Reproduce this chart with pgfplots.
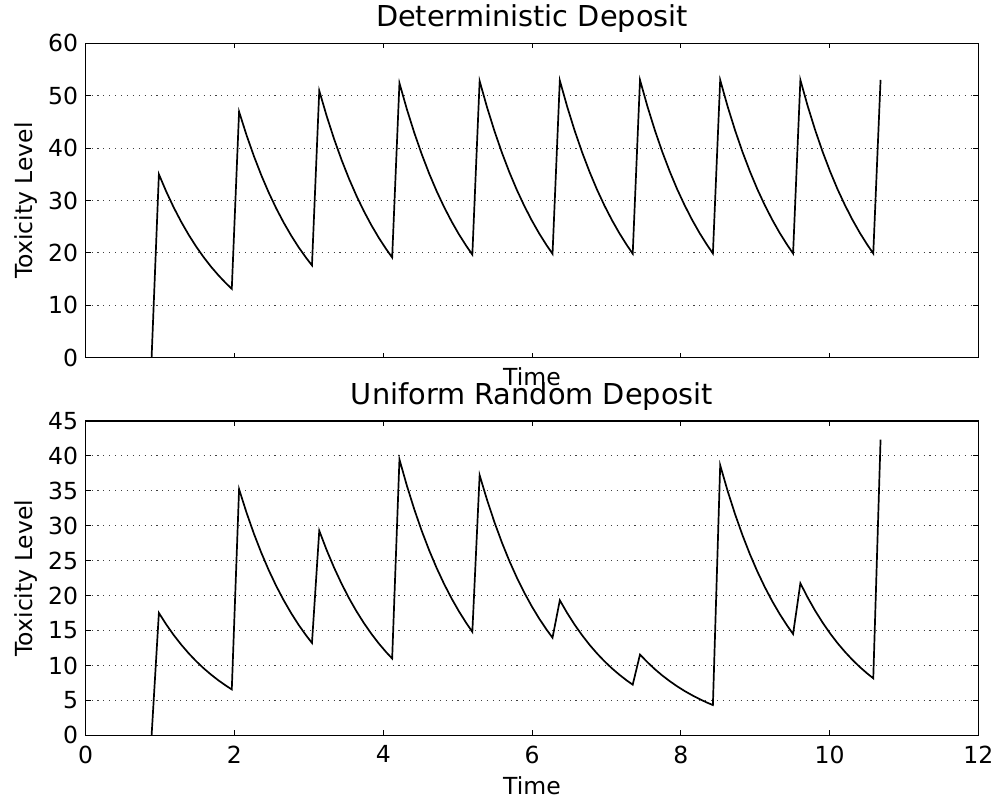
\documentclass[border=0pt]{standalone}
\usepackage{pgfplots}
\pgfplotsset{compat=1.18}
\usepackage{fontspec}
\setmainfont{DejaVu Sans}

\pgfplotsset{
 mystyle/.style={
  scale only axis, width=892.6pt, height=314.4pt,
  xmin=0, xmax=12, xtick={0,2,...,12},
  axis line style={line width=1.5pt},
  tick style={line width=1pt, black},
  major tick length=5pt,
  tick align=inside, tick pos=both,
  ymajorgrids, major grid style={line width=1.1pt, black!75, dash pattern=on 1.1pt off 4.8pt},
  tick label style={font=\fontsize{23.5}{27}\selectfont},
  /pgf/number format/assume math mode=true,
  yticklabel style={anchor=east, inner sep=0pt, xshift=-7.4pt},
  xticklabel style={anchor=north, inner sep=0pt, yshift=-10pt},
  label style={font=\fontsize{23.5}{27}\selectfont},
  title style={font=\fontsize{28.8}{33}\selectfont, at={(axis description cs:0.5,1.033)}, anchor=base},
  ylabel style={at={(axis description cs:-0.0596,0.5)}, anchor=base},
  ylabel={Toxicity Level}, xlabel={Time},
 }
}

\begin{document}
\begin{tikzpicture}
\useasboundingbox (-85.7pt,43.3pt) rectangle (911.3pt,-755.7pt);
\begin{axis}[mystyle, at={(0,0)}, anchor=north west,
  ymin=0, ymax=60, ytick={0,10,...,60}, xticklabels={{},{},{},{},{},{},{}},
  title={Deterministic Deposit},
  xlabel style={at={(axis description cs:0.5,-0.0897)}, anchor=base}]
\addplot[black, line width=1.7pt, mark=none] coordinates {
(0.886,0)
(0.984,35)(1.084,31.67)(1.184,28.65)(1.284,25.93)(1.384,23.46)(1.484,21.23)(1.584,19.21)(1.684,17.38)(1.784,15.73)(1.884,14.23)(1.964,13.14)
(2.062,46.95)(2.162,42.48)(2.262,38.44)(2.362,34.78)(2.462,31.47)(2.562,28.48)(2.662,25.77)(2.762,23.32)(2.862,21.09)(2.962,19.09)(3.042,17.62)
(3.140,50.95)(3.240,46.10)(3.340,41.71)(3.440,37.74)(3.540,34.15)(3.640,30.90)(3.740,27.96)(3.840,25.30)(3.940,22.89)(4.040,20.72)(4.120,19.12)
(4.218,52.4)(4.318,47.41)(4.418,42.90)(4.518,38.82)(4.618,35.12)(4.718,31.78)(4.818,28.76)(4.918,26.02)(5.018,23.54)(5.118,21.31)(5.198,19.67)
(5.296,52.8)(5.396,47.77)(5.496,43.23)(5.596,39.11)(5.696,35.39)(5.796,32.02)(5.896,28.98)(5.996,26.22)(6.096,23.72)(6.196,21.47)(6.276,19.82)
(6.374,52.9)(6.474,47.86)(6.574,43.31)(6.674,39.19)(6.774,35.46)(6.874,32.08)(6.974,29.03)(7.074,26.27)(7.174,23.77)(7.274,21.51)(7.354,19.85)
(7.452,53)(7.552,47.95)(7.652,43.39)(7.752,39.26)(7.852,35.53)(7.952,32.14)(8.052,29.09)(8.152,26.32)(8.252,23.81)(8.352,21.55)(8.432,19.89)
(8.530,53)(8.630,47.95)(8.730,43.39)(8.830,39.26)(8.930,35.53)(9.030,32.14)(9.130,29.09)(9.230,26.32)(9.330,23.81)(9.430,21.55)(9.510,19.89)
(9.608,53)(9.708,47.95)(9.808,43.39)(9.908,39.26)(10.008,35.53)(10.108,32.14)(10.208,29.09)(10.308,26.32)(10.408,23.81)(10.508,21.55)(10.588,19.89)
(10.686,53)
};
\end{axis}
\begin{axis}[mystyle, at={(0,-377.7pt)}, anchor=north west,
  ymin=0, ymax=45, ytick={0,5,...,45},
  title={Uniform Random Deposit},
  xlabel style={at={(axis description cs:0.5,-0.1877)}, anchor=base}]
\addplot[black, line width=1.7pt, mark=none] coordinates {
(0.886,0)
(0.984,17.53)(1.084,15.86)(1.184,14.35)(1.284,12.99)(1.384,11.75)(1.484,10.63)(1.584,9.62)(1.684,8.71)(1.784,7.88)(1.884,7.13)(1.964,6.58)
(2.062,35.24)(2.162,31.89)(2.262,28.85)(2.362,26.11)(2.462,23.62)(2.562,21.37)(2.662,19.34)(2.762,17.50)(2.862,15.83)(2.962,14.33)(3.042,13.23)
(3.140,29.3)(3.240,26.51)(3.340,23.99)(3.440,21.71)(3.540,19.64)(3.640,17.77)(3.740,16.08)(3.840,14.55)(3.940,13.16)(4.040,11.91)(4.120,11.00)
(4.218,39.5)(4.318,35.74)(4.418,32.34)(4.518,29.26)(4.618,26.48)(4.718,23.96)(4.818,21.68)(4.918,19.62)(5.018,17.75)(5.118,16.06)(5.198,14.82)
(5.296,37.24)(5.396,33.70)(5.496,30.49)(5.596,27.59)(5.696,24.96)(5.796,22.59)(5.896,20.44)(5.996,18.49)(6.096,16.73)(6.196,15.14)(6.276,13.98)
(6.374,19.34)(6.474,17.50)(6.574,15.83)(6.674,14.33)(6.774,12.96)(6.874,11.73)(6.974,10.61)(7.074,9.60)(7.174,8.69)(7.274,7.86)(7.354,7.26)
(7.452,11.57)(7.552,10.47)(7.652,9.47)(7.752,8.57)(7.852,7.76)(7.952,7.02)(8.052,6.35)(8.152,5.75)(8.252,5.20)(8.352,4.70)(8.432,4.34)
(8.530,38.67)(8.630,34.99)(8.730,31.66)(8.830,28.65)(8.930,25.92)(9.030,23.45)(9.130,21.22)(9.230,19.20)(9.330,17.37)(9.430,15.72)(9.510,14.51)
(9.608,21.77)(9.708,19.70)(9.808,17.82)(9.908,16.13)(10.008,14.59)(10.108,13.20)(10.208,11.95)(10.308,10.81)(10.408,9.78)(10.508,8.85)(10.588,8.17)
(10.686,42.34)
};
\end{axis}
\end{tikzpicture}
\end{document}
